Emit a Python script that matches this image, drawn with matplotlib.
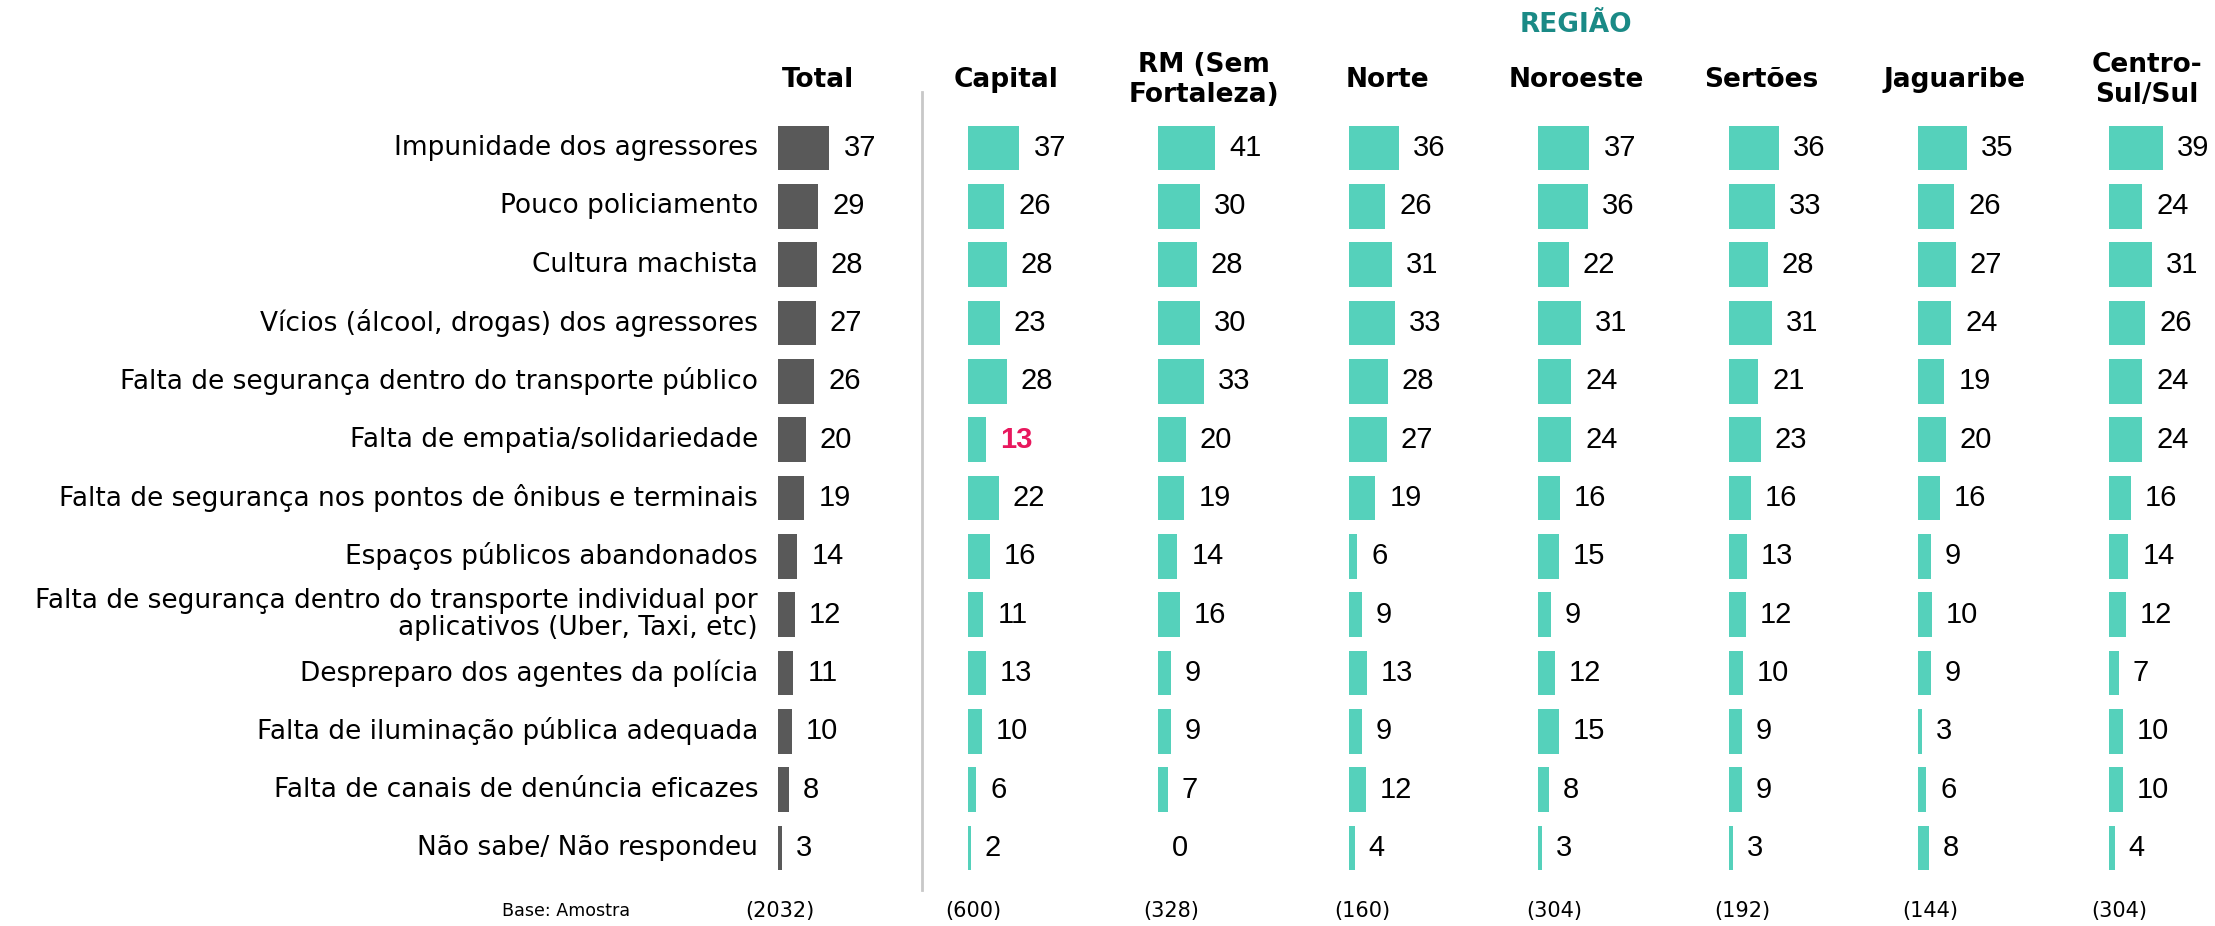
import matplotlib
matplotlib.use("Agg")
import matplotlib.pyplot as plt

# dados
categorias = [
    "Impunidade dos agressores",
    "Pouco policiamento",
    "Cultura machista",
    "Vícios (álcool, drogas) dos agressores",
    "Falta de segurança dentro do transporte público",
    "Falta de empatia/solidariedade",
    "Falta de segurança nos pontos de ônibus e terminais",
    "Espaços públicos abandonados",
    "Falta de segurança dentro do transporte individual por\naplicativos (Uber, Taxi, etc)",
    "Despreparo dos agentes da polícia",
    "Falta de iluminação pública adequada",
    "Falta de canais de denúncia eficazes",
    "Não sabe/ Não respondeu",
]
colunas = ["Total", "Capital", "RM (Sem\nFortaleza)", "Norte", "Noroeste",
           "Sertões", "Jaguaribe", "Centro-\nSul/Sul"]
bases = ["(2032)", "(600)", "(328)", "(160)", "(304)", "(192)", "(144)", "(304)"]

total = [37, 29, 28, 27, 26, 20, 19, 14, 12, 11, 10, 8, 3]
capital = [37, 26, 28, 23, 28, 13, 22, 16, 11, 13, 10, 6, 2]
rm = [41, 30, 28, 30, 33, 20, 19, 14, 16, 9, 9, 7, 0]
norte = [36, 26, 31, 33, 28, 27, 19, 6, 9, 13, 9, 12, 4]
noroeste = [37, 36, 22, 31, 24, 24, 16, 15, 9, 12, 15, 8, 3]
sertoes = [36, 33, 28, 31, 21, 23, 16, 13, 12, 10, 9, 9, 3]
jaguaribe = [35, 26, 27, 24, 19, 20, 16, 9, 10, 9, 3, 6, 8]
centro_sul = [39, 24, 31, 26, 24, 24, 16, 14, 12, 7, 10, 10, 4]
series = [total, capital, rm, norte, noroeste, sertoes, jaguaribe, centro_sul]

# destaque (coluna, linha)
destaque = (1, 5)

W, H = 2215, 926
CINZA = "#595959"
VERDE = "#55d1bb"
ROSA = "#e8175d"
TEAL = "#1a8a86"
SANS = ["DejaVu Sans"]
ARIAL = ["Liberation Sans", "DejaVu Sans"]

fig = plt.figure(figsize=(W / 100, H / 100), dpi=100)

# posições (px) de cada coluna
inicio = [778, 968, 1158, 1349, 1538, 1729, 1918, 2109]
desloc_titulo = [40, 38, 46, 38, 38, 32, 37, 38]
desloc_base = [2, 5, 13, 13, 16, 13, 12, 10]
px_por_unidade = 1.39
larg_ax = 100
y0, y1 = 118.8, 877.2  # topo e base da área das barras (px)

for i, vals in enumerate(series):
    ax = fig.add_axes([inicio[i] / W, 1 - y1 / H, larg_ax / W, (y1 - y0) / H])
    ax.set_xlim(0, larg_ax / px_por_unidade)
    ax.set_ylim(len(categorias) - 0.5, -0.5)
    cor = CINZA if i == 0 else VERDE
    ax.barh(range(len(vals)), vals, height=0.77, color=cor)
    for j, v in enumerate(vals):
        if (i, j) == destaque:
            ax.text(v + 14 / px_por_unidade, j, str(v), va="center", ha="left",
                    fontsize=21, color=ROSA, fontweight="bold", family=ARIAL)
        else:
            ax.text(v + 14 / px_por_unidade, j, str(v), va="center", ha="left",
                    fontsize=21, color="black", family=ARIAL)
    ax.axis("off")
    # cabeçalho
    fig.text((inicio[i] + desloc_titulo[i]) / W, 1 - 80 / H, colunas[i],
             ha="center", va="center", fontsize=19, fontweight="bold",
             family=SANS, linespacing=1.15)
    # base
    fig.text((inicio[i] + desloc_base[i]) / W, 1 - 911 / H, bases[i],
             ha="center", va="center", fontsize=15, family=SANS)

# rótulos das categorias
for j, cat in enumerate(categorias):
    yc = y0 + (j + 0.5) * (y1 - y0) / len(categorias)
    fig.text(758 / W, 1 - yc / H, cat, ha="right", va="center", fontsize=19,
             family=SANS, multialignment="right", linespacing=1.05)

fig.text(566 / W, 1 - 911 / H, "Base: Amostra", ha="center", va="center",
         fontsize=12.6, family=SANS)
fig.text(1576 / W, 1 - 25 / H, "REGIÃO", ha="center", va="center",
         fontsize=19, fontweight="bold", color=TEAL, family=SANS)

# linha separadora
fig.add_artist(plt.Line2D([922 / W, 922 / W], [1 - 92 / H, 1 - 890 / H],
                          color="#c8c8c8", linewidth=2))

fig.savefig("out.png", dpi=100, facecolor="white")
